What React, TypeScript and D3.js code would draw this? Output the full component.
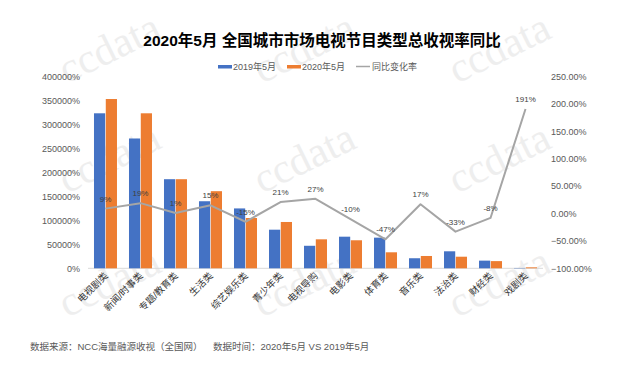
import React from "react";
import * as d3 from "d3";

// chart data
const categories = ["电视剧类", "新闻/时事类", "专题/教育类", "生活类", "综艺娱乐类", "青少年类", "电视导购", "电影类", "体育类", "音乐类", "法治类", "财经类", "戏剧类"];
const ratings2019 = [323600, 271000, 186000, 140000, 125000, 80600, 47000, 66000, 64000, 21000, 35500, 16000, 700];
const ratings2020 = [353400, 323600, 186000, 161000, 105000, 96700, 60500, 58500, 33400, 25700, 24200, 15000, 2000];
const yoyChange = [9, 19, 1, 15, -15, 21, 27, -10, -47, 17, -33, -8, 191];
const leftTicks = [0, 50000, 100000, 150000, 200000, 250000, 300000, 350000, 400000];
const rightTicks = [-100, -50, 0, 50, 100, 150, 200, 250];
const seriesNames = ["2019年5月", "2020年5月", "同比变化率"];

const W = 630;
const H = 392;
const BLUE = "#4472C4";
const ORANGE = "#ED7D31";
const GRAY = "#A5A5A5";
const FONT = "'Liberation Sans', Arial, 'Noto Sans CJK SC', sans-serif";

// watermark tiles
const markX = [67, 262, 457];
const markY = [84, 194, 318];

export default function App() {
  const top = 76.7;
  const bottom = 268.3;
  const x = d3.scaleBand<string>().domain(categories).range([88, 543]).paddingInner(0.343).paddingOuter(0.171);
  const sub = d3.scaleBand<string>().domain(["a", "b"]).range([0, x.bandwidth()]).paddingInner(0.05);
  const yL = d3.scaleLinear().domain([0, 400000]).range([bottom, top]);
  const yR = d3.scaleLinear().domain([-100, 250]).range([bottom, top]);

  const line = d3.line<number>()
    .x((_, i) => x(categories[i])! + x.bandwidth() / 2)
    .y(d => yR(d));

  return (
    <svg width={W} height={H} style={{ position: "absolute", left: 0, top: 0, background: "#fff" }} fontFamily={FONT}>
      {/* ccdata watermark */}
      <g fill="#eeeeee" fontFamily="'Liberation Serif', 'DejaVu Serif', serif" fontSize={42}>
        {markY.map(my => markX.map(mx => (
          <text key={`${mx}-${my}`} transform={`translate(${mx},${my}) rotate(-26)`}>ccdata</text>
        )))}
      </g>

      {/* title */}
      <text x={322} y={46} textAnchor="middle" fontSize={15.5} fontWeight="bold" fill="#000">
        2020年5月 全国城市市场电视节目类型总收视率同比
      </text>

      {/* legend */}
      <g fontSize={9} fill="#595959">
        <rect x={218} y={65} width={14} height={3.5} fill={BLUE} />
        <text x={233} y={70}>{seriesNames[0]}</text>
        <rect x={287} y={65} width={14} height={3.5} fill={ORANGE} />
        <text x={302} y={70}>{seriesNames[1]}</text>
        <line x1={356} x2={370} y1={66.5} y2={66.5} stroke={GRAY} strokeWidth={1.5} />
        <text x={372} y={70}>{seriesNames[2]}</text>
      </g>

      {/* left axis */}
      <g fontSize={9} fill="#595959" textAnchor="end">
        {leftTicks.map(t => (
          <text key={t} x={80} y={yL(t) + 3.2}>{`${t}%`}</text>
        ))}
      </g>
      {/* right axis */}
      <g fontSize={9} fill="#595959">
        {rightTicks.map(t => (
          <text key={t} x={551} y={yR(t) + 3.2}>{`${d3.format(".2f")(t)}%`}</text>
        ))}
      </g>

      {/* baseline */}
      <line x1={88} x2={543} y1={bottom} y2={bottom} stroke="#d9d9d9" strokeWidth={1} />

      {/* bars */}
      {categories.map((c, i) => (
        <g key={c}>
          <rect x={x(c)! + sub("a")!} y={yL(ratings2019[i])} width={sub.bandwidth()} height={bottom - yL(ratings2019[i])} fill={BLUE} />
          <rect x={x(c)! + sub("b")!} y={yL(ratings2020[i])} width={sub.bandwidth()} height={bottom - yL(ratings2020[i])} fill={ORANGE} />
        </g>
      ))}

      {/* yoy line */}
      <path d={line(yoyChange) ?? ""} fill="none" stroke={GRAY} strokeWidth={2} strokeLinejoin="round" />
      <g fontSize={8} fill="#404040" textAnchor="middle">
        {yoyChange.map((v, i) => (
          <text key={i} x={x(categories[i])! + x.bandwidth() / 2} y={yR(v) - 7}>{`${v}%`}</text>
        ))}
      </g>

      {/* category labels */}
      <g fontSize={9.5} fill="#333" textAnchor="end">
        {categories.map(c => {
          const cx = x(c)! + x.bandwidth() / 2 + 3;
          return (
            <text key={c} transform={`translate(${cx},${bottom + 8}) rotate(-45)`}>{c}</text>
          );
        })}
      </g>

      {/* footer */}
      <g fontSize={9.5} fill="#595959">
        <text x={30} y={350}>数据来源：NCC海量融源收视（全国网）</text>
        <text x={213} y={350}>数据时间：2020年5月 VS 2019年5月</text>
      </g>
    </svg>
  );
}
